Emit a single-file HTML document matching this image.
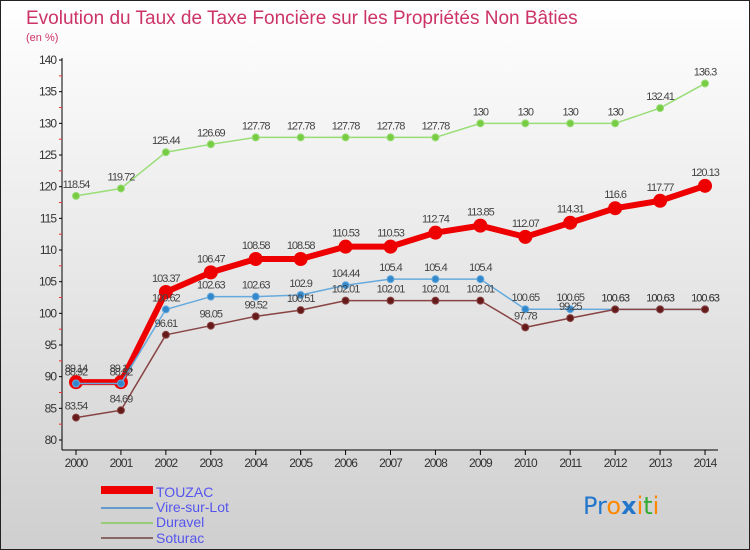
<!DOCTYPE html>
<html><head><meta charset="utf-8"><style>
body{margin:0}
svg{display:block;font-family:"Liberation Sans",sans-serif}
</style></head><body>
<svg id="c" width="750" height="550">
<defs><linearGradient id="bg" x1="0" y1="0" x2="0" y2="1"><stop offset="0" stop-color="#ffffff"/><stop offset="1" stop-color="#cfcfcf"/></linearGradient></defs>
<rect x="0.5" y="0.5" width="749" height="549" fill="url(#bg)" stroke="#222"/>
<text x="26" y="24" font-size="19" fill="#cc3366">Evolution du Taux de Taxe Foncière sur les Propriétés Non Bâties</text>
<text x="26" y="41" font-size="11" fill="#cc3366">(en %)</text>
<g id="axes"></g><g id="series"></g>
<g>
<rect x="101" y="486" width="52" height="8" fill="#ee0000"/>
<text x="156" y="497" font-size="14" fill="#5555ee">TOUZAC</text>
<rect x="101" y="507" width="52" height="2" fill="#6699cc"/>
<text x="156" y="512" font-size="14" fill="#5555ee">Vire-sur-Lot</text>
<rect x="101" y="522" width="52" height="2" fill="#99cc77"/>
<text x="156" y="527" font-size="14" fill="#5555ee">Duravel</text>
<rect x="101" y="537" width="52" height="2" fill="#886666"/>
<text x="156" y="543" font-size="14" fill="#5555ee">Soturac</text>
</g>
<text x="583" y="514" font-size="24" font-family="DejaVu Sans"><tspan fill="#2277cc">Pr</tspan><tspan fill="#ff8800">o</tspan><tspan fill="#2277cc" font-weight="bold">x</tspan><tspan fill="#ff8800">i</tspan><tspan fill="#33aa33">t</tspan><tspan fill="#ff8800">i</tspan></text>
</svg>
<script>
const years=[2000,2001,2002,2003,2004,2005,2006,2007,2008,2009,2010,2011,2012,2013,2014];
const yTicks=[80,85,90,95,100,105,110,115,120,125,130,135,140];
const touzac=[89.14,89.14,103.37,106.47,108.58,108.58,110.53,110.53,112.74,113.85,112.07,114.31,116.6,117.77,120.13];
const vire=[88.92,88.92,100.62,102.63,102.63,102.9,104.44,105.4,105.4,105.4,100.65,100.65,100.63,100.63,100.63];
const duravel=[118.54,119.72,125.44,126.69,127.78,127.78,127.78,127.78,127.78,130,130,130,130,132.41,136.3];
const soturac=[83.54,84.69,96.61,98.05,99.52,100.51,102.01,102.01,102.01,102.01,97.78,99.25,100.63,100.63,100.63];
const NS='http://www.w3.org/2000/svg';
const X=i=>76+i*44.93, Y=v=>440-(v-80)*6.333;
function mk(t,a,p){const e=document.createElementNS(NS,t);for(const k in a)e.setAttribute(k,a[k]);p.appendChild(e);return e;}
const ax=document.getElementById('axes');
const yl=mk('line',{x1:62,y1:58,x2:62,y2:450,stroke:'#000'},ax);


const xl=mk('line',{x1:62,y1:450,x2:718,y2:450,stroke:'#000'},ax);


yTicks.forEach(v=>{
  mk('line',{x1:59,y1:Y(v),x2:62,y2:Y(v),stroke:'#000'},ax);
  if(v<140) mk('line',{x1:59,y1:Y(v+2.5),x2:62,y2:Y(v+2.5),stroke:'#e33'},ax);
  const t=mk('text',{x:56,y:Y(v)+4,'font-size':12,'text-anchor':'end',fill:'#333','letter-spacing':'-1'},ax);
  t.textContent=v;
  
  
});
years.forEach((y,i)=>{
  mk('line',{x1:X(i),y1:450,x2:X(i),y2:455,stroke:'#000'},ax);
  const t=mk('text',{x:X(i),y:467,'font-size':12,'text-anchor':'middle',fill:'#333','letter-spacing':'-1'},ax);
  t.textContent=y;
  
  
});
const sg=document.getElementById('series');
function draw(vals,name,color,w,r,dot,dy){
  const g=mk('g',{},sg);
  
  
  const pl=mk('polyline',{points:vals.map((v,i)=>X(i)+','+Y(v)).join(' '),fill:'none',stroke:color,'stroke-width':w,'stroke-linejoin':'round'},g);
  
  
  vals.forEach((v,i)=>{
    const c=mk('circle',{cx:X(i),cy:Y(v),r:r,fill:dot,stroke:color,'stroke-width':1},g);
    
    
    const t=mk('text',{x:X(i),y:Y(v)-dy,'font-size':11,'text-anchor':'middle',fill:'#444','letter-spacing':'-1'},g);
    t.textContent=v;
    
    
  });
}
draw(duravel,'duravel','#99dd77',1.5,3.5,'#77cc44',8);
draw(touzac,'touzac','#ee0000',6,6.5,'#ee0000',10);
draw(vire,'vire','#66aadd',1.5,3.5,'#3388cc',8);
draw(soturac,'soturac','#884444',1.5,3.5,'#661a1a',8);
</script>
</body></html>
